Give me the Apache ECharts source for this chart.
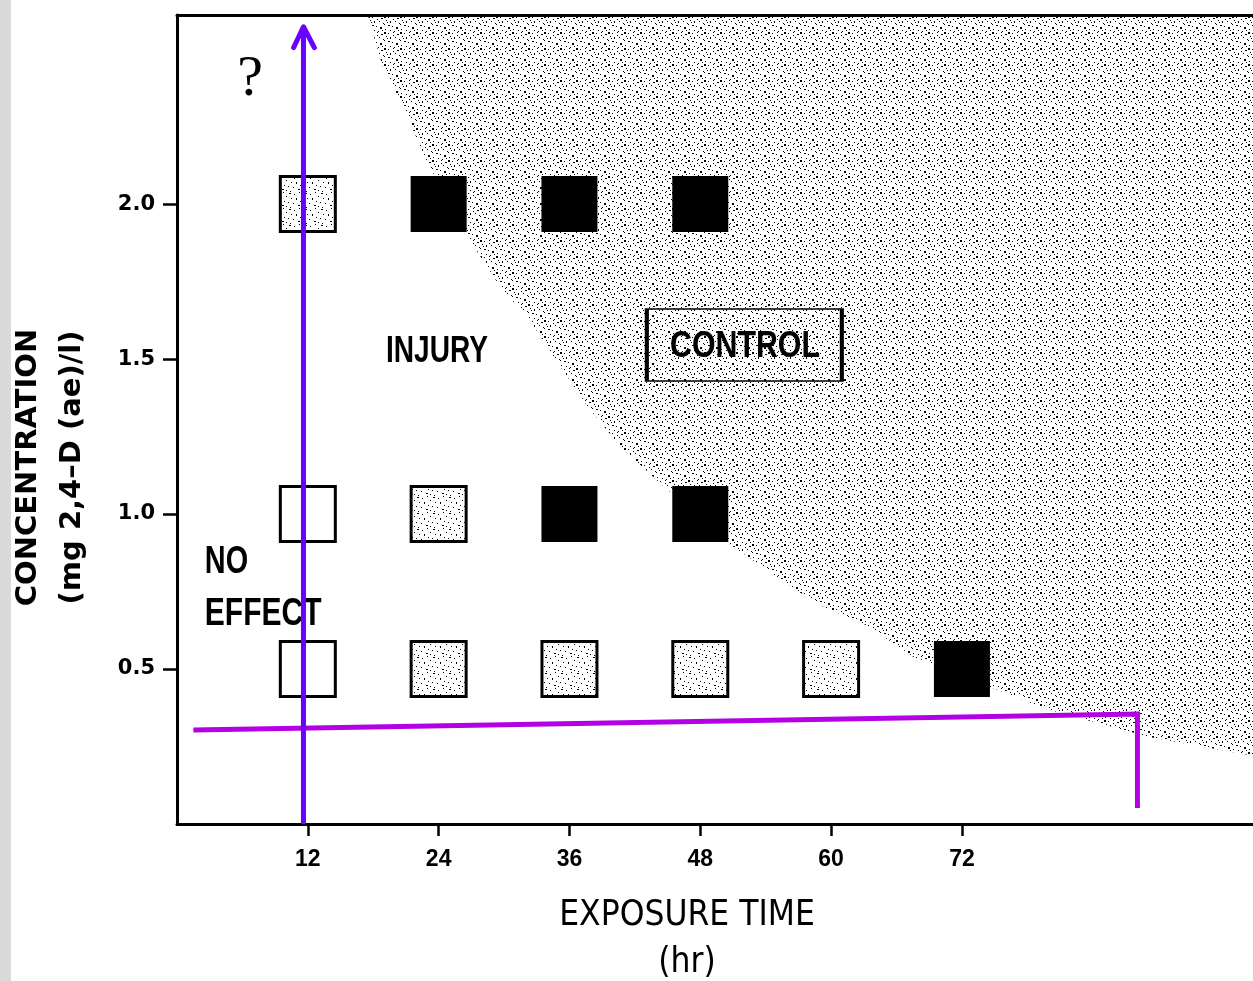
<!DOCTYPE html>
<html>
<head>
<meta charset="utf-8">
<script src="https://cdn.jsdelivr.net/npm/echarts@6/dist/echarts.min.js"></script>
<style>
html,body{margin:0;padding:0;background:#fff;}
#c{width:1253px;height:981px;}
</style>
</head>
<body>
<div id="c"></div>
<script>
// ---- data ----
const timeTicks = [12, 24, 36, 48, 60, 72];
const concTicks = [0.5, 1.0, 1.5, 2.0];
const noEffectPts = [[12, 1.0], [12, 0.5]];
const injuryPts = [[12, 2.0], [24, 1.0], [24, 0.5], [36, 0.5], [48, 0.5], [60, 0.5]];
const controlPts = [[24, 2.0], [36, 2.0], [48, 2.0], [36, 1.0], [48, 1.0], [72, 0.5]];
const controlBoundary = [
  [17.5, 2.61], [18.9, 2.44], [20.4, 2.34], [22.9, 2.14], [26.2, 1.92], [28.4, 1.80],
  [29.9, 1.72], [32.1, 1.64], [34.5, 1.51], [37.6, 1.35], [40.6, 1.22], [44.3, 1.10],
  [50.4, 0.91], [54.1, 0.82], [58.7, 0.71], [63.3, 0.64], [67.5, 0.54], [79.8, 0.37],
  [89.3, 0.28], [98.7, 0.22]
];
const blueArrowLine = [[11.6, 0.0], [11.6, 2.57]];
const blueArrowHead = [[10.7, 2.505], [11.6, 2.572], [12.6, 2.505]];
const magentaLine = [[1.5, 0.303], [88.1, 0.355], [88.1, 0.052]];
const regionTexts = [
  {name: 'INJURY', value: [23.85, 1.523], align: 'center', size: 37, sx: 0.76},
  {name: 'CONTROL', value: [52.1, 1.54], align: 'center', size: 37, sx: 0.82},
  {name: 'NO', value: [2.55, 0.842], align: 'left', size: 38, sx: 0.76},
  {name: 'EFFECT', value: [2.55, 0.677], align: 'left', size: 38, sx: 0.79}
];
const questionText = [{name: '?', value: [6.7, 2.40]}];
const controlBox = [[52.04, 1.545]];

// ---- stipple pattern ----
function makePattern(dots, size, bg) {
  const cv = document.createElement('canvas');
  cv.width = size; cv.height = size;
  const ctx = cv.getContext('2d');
  if (bg) { ctx.fillStyle = bg; ctx.fillRect(0, 0, size, size); }
  ctx.fillStyle = '#000';
  dots.forEach(d => ctx.fillRect(d[0], d[1], d[2] || 1, d[3] || 1));
  return cv;
}
const dotsA = [[0,0,2,2],[4,1],[9,0],[13,2,2,1],[2,4],[6,5,1,2],[11,5],[15,7],[0,8],[4,9,2,1],
  [8,10],[12,11,2,2],[1,13],[6,14],[10,15],[14,14],[3,6],[9,3]];
const dotsB = [[1,1,2,1],[6,2],[11,0],[14,4],[3,6],[8,6,1,2],[12,9],[0,10],[5,11],[10,13,2,1],[2,15],[14,14]];
const patArea = makePattern(dotsA, 16, null);
const patSq = makePattern(dotsB, 16, '#fff');

const chart = echarts.init(document.getElementById('c'), null, {renderer: 'canvas'});

const option = {
  backgroundColor: '#fff',
  animation: false,
  grid: {left: 177, right: 0, top: 15, bottom: 157, containLabel: false, outerBoundsMode: 'none'},
  xAxis: [{
    type: 'value', min: 0, max: 98.7,
    name: 'EXPOSURE TIME\n(hr)', nameLocation: 'middle', nameGap: 68,
    nameTextStyle: {fontFamily: "'DejaVu Sans Condensed', 'Liberation Sans', sans-serif", fontSize: 35, color: '#000', lineHeight: 47, padding: [0, 56, 0, 0]},
    axisLine: {show: true, onZero: false, lineStyle: {color: '#000', width: 3}},
    axisTick: {show: true, customValues: timeTicks, length: 12, lineStyle: {color: '#000', width: 2.5}},
    axisLabel: {customValues: timeTicks, margin: 24, color: '#000', fontFamily: "'Liberation Sans', sans-serif", fontWeight: 'bold', fontSize: 23},
    splitLine: {show: false}
  }, {
    type: 'value', min: 0, max: 98.7, position: 'top',
    axisLine: {show: true, onZero: false, lineStyle: {color: '#000', width: 3}},
    axisTick: {show: false}, axisLabel: {show: false}, splitLine: {show: false}
  }],
  yAxis: [{
    type: 'value', min: 0, max: 2.61,
    name: 'CONCENTRATION\n(mg 2,4–D (ae)/l)', nameLocation: 'middle', nameRotate: 90, nameGap: 83,
    nameTextStyle: {fontFamily: "'DejaVu Sans', sans-serif", fontWeight: 'bold', fontSize: 29, color: '#000', lineHeight: 44, padding: [0, 96, 0, 0]},
    axisLine: {show: true, onZero: false, lineStyle: {color: '#000', width: 3}},
    axisTick: {show: true, customValues: concTicks, length: 14, lineStyle: {color: '#000', width: 2.5}},
    axisLabel: {customValues: concTicks, margin: 22, color: '#000', fontFamily: "'DejaVu Sans', sans-serif", fontWeight: 'bold', fontSize: 21,
      formatter: v => v.toFixed(1)},
    splitLine: {show: false}
  }],
  series: [
    {
      name: 'Control region', type: 'line', data: controlBoundary, symbol: 'none', silent: true,
      lineStyle: {width: 0, opacity: 0}, z: 1,
      areaStyle: {origin: 'end', color: {image: patArea, repeat: 'repeat'}, opacity: 1}
    },
    {
      name: 'No effect', type: 'scatter', data: noEffectPts, symbol: 'rect', symbolSize: 55, z: 3,
      itemStyle: {color: '#fff', borderColor: '#000', borderWidth: 3, opacity: 1}
    },
    {
      name: 'Injury', type: 'custom', data: injuryPts, z: 3,
      renderItem: function (params, api) {
        const p = api.coord([api.value(0), api.value(1)]);
        return {
          type: 'rect',
          shape: {x: p[0] - 27.5, y: p[1] - 27.5, width: 55, height: 55},
          style: {fill: {image: patSq, repeat: 'repeat'}, stroke: '#000', lineWidth: 3}
        };
      }
    },
    {
      name: 'Control', type: 'scatter', data: controlPts, symbol: 'rect', symbolSize: 56, z: 3,
      itemStyle: {color: '#000', opacity: 1}
    },
    {
      name: 'box', type: 'scatter', data: controlBox, symbol: 'rect', symbolSize: [195, 72], z: 4, silent: true,
      itemStyle: {color: 'rgba(0,0,0,0)', borderColor: '#000', borderWidth: 2.5, opacity: 1}
    },
    {
      name: 'regionText', type: 'custom', data: regionTexts, z: 5, silent: true,
      renderItem: function (params, api) {
        const d = regionTexts[params.dataIndex];
        const p = api.coord([api.value(0), api.value(1)]);
        return {
          type: 'text', x: p[0], y: p[1], scaleX: d.sx, scaleY: 1,
          style: {text: d.name, fill: '#000', align: d.align, verticalAlign: 'middle',
            font: 'bold ' + d.size + 'px "Liberation Sans", sans-serif'}
        };
      }
    },
    {
      name: 'question', type: 'scatter', data: questionText, symbolSize: 0, z: 5, silent: true,
      itemStyle: {opacity: 1},
      label: {show: true, position: 'inside', formatter: p => p.name, color: '#000', opacity: 1,
        fontFamily: "'Liberation Serif', 'DejaVu Serif', serif", fontSize: 58}
    },
    {
      name: 'magenta', type: 'line', data: magentaLine, symbol: 'none', z: 8, silent: true,
      lineStyle: {color: '#b400e4', width: 5, cap: 'butt', join: 'miter'}
    },
    {
      name: 'blue', type: 'line', data: blueArrowLine, symbol: 'none', z: 9, silent: true,
      lineStyle: {color: '#6a00ff', width: 5}
    },
    {
      name: 'blueHead', type: 'line', data: blueArrowHead, symbol: 'none', z: 9, silent: true,
      lineStyle: {color: '#6a00ff', width: 5, cap: 'round', join: 'round'}
    }
  ],
  graphic: [{
    type: 'rect', left: 0, top: 0, z: -10, silent: true,
    shape: {width: 11, height: 981}, style: {fill: '#dadada'}
  }]
};
chart.setOption(option);
</script>
</body>
</html>
